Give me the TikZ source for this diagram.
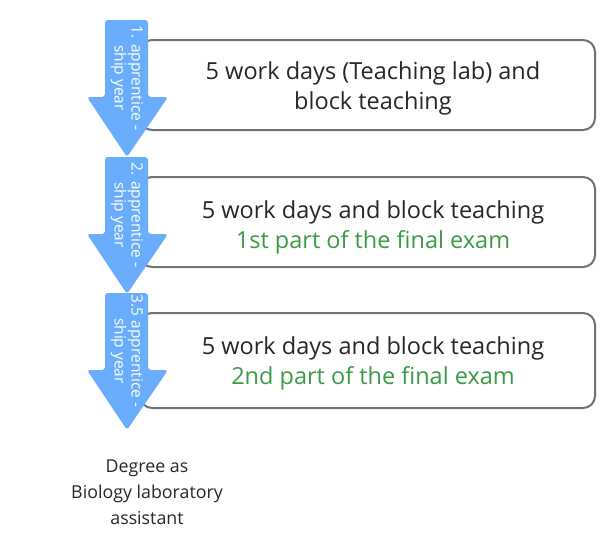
\documentclass[tikz,border=0pt]{standalone}
\usepackage{fontspec}
\setmainfont{Open Sans}
\begin{document}
\begin{tikzpicture}[x=1pt,y=-1pt,
 btxt/.style={font=\fontsize{23.5}{30}\selectfont,align=center,text=black!85},
 atxt/.style={font=\fontsize{15.5}{17}\selectfont,align=center,text=white,rotate=-90}]
\useasboundingbox (0,0) rectangle (614,541);
\definecolor{arrc}{HTML}{6AADFC}
\definecolor{boxc}{HTML}{6E7176}
\foreach \t/\b/\n in {40/130/a,177/267/b,313/408/c}{
 \draw[line width=2pt,draw=boxc,rounded corners=12pt] (140,\t) rectangle (595,\b);
}
\node[btxt] (ta) at (373,88) {5 work days (Teaching lab) and\\block teaching};
\node[btxt] (tb) at (373,227) {5 work days and block teaching\\\textcolor[HTML]{3A9B45}{1st part of the final exam}};
\node[btxt] (tc) at (373,363) {5 work days and block teaching\\\textcolor[HTML]{3A9B45}{2nd part of the final exam}};
\foreach \t/\lab/\n in {20/1. apprentice -/A,157/2. apprentice -/B,293/3.5 apprentice -/C}{
 \fill[arrc,rounded corners=3pt] (105,\t) -- (148,\t) -- (148,\t+77) -- (168,\t+77) -- (127,\t+137) -- (87,\t+77) -- (105,\t+77) -- cycle;
 \node[atxt] (\n) at (127,\t+58) {\lab\\ship year};
}
\node[btxt,font=\fontsize{17.8}{26}\selectfont] (deg) at (147,492) {Degree as\\Biology laboratory\\assistant};
\end{tikzpicture}
\end{document}
